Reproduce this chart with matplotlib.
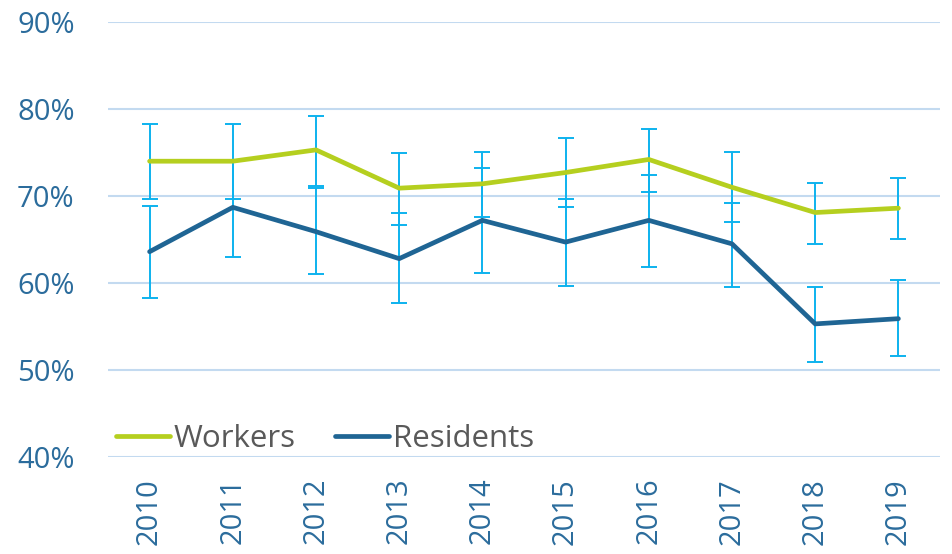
import matplotlib
matplotlib.use("Agg")
import matplotlib.pyplot as plt
import numpy as np

years = ["2010", "2011", "2012", "2013", "2014", "2015", "2016", "2017", "2018", "2019"]
workers = [74.0, 74.0, 75.3, 70.9, 71.4, 72.7, 74.2, 71.0, 68.1, 68.6]
workers_hi = [78.3, 78.3, 79.2, 74.9, 75.1, 76.7, 77.7, 75.0, 71.5, 72.1]
workers_lo = [69.7, 69.7, 71.1, 66.7, 67.6, 68.7, 70.5, 67.0, 64.5, 65.1]
residents = [63.6, 68.7, 65.9, 62.8, 67.2, 64.7, 67.2, 64.5, 55.3, 55.9]
residents_hi = [68.9, 74.0, 70.9, 68.0, 73.2, 69.7, 72.4, 69.2, 59.5, 60.3]
residents_lo = [58.3, 63.0, 61.0, 57.7, 61.1, 59.7, 61.8, 59.5, 50.9, 51.6]
yticks = [40, 50, 60, 70, 80, 90]

plt.rcParams['font.family'] = ['Open Sans', 'DejaVu Sans']

fig = plt.figure(figsize=(9.53, 5.54), dpi=100)
ax = fig.add_axes([108/953, 1-457/554, (940-108)/953, (457-22)/554])

x = np.arange(len(years))
green = "#B5CF1F"
blue = "#1F6594"
err_c = "#0DB2EE"
grid_c = "#C3DAF0"
tick_c = "#2B6C9C"

w = np.array(workers); r = np.array(residents)
ax.errorbar(x, w, yerr=[w - np.array(workers_lo), np.array(workers_hi) - w],
            fmt='none', ecolor=err_c, elinewidth=1.4, capsize=6, capthick=1.4, zorder=3)
ax.errorbar(x, r, yerr=[r - np.array(residents_lo), np.array(residents_hi) - r],
            fmt='none', ecolor=err_c, elinewidth=1.4, capsize=6, capthick=1.4, zorder=3)
ax.plot(x, w, color=green, lw=3.4, solid_capstyle='round', label="Workers", zorder=4)
ax.plot(x, r, color=blue, lw=3.4, solid_capstyle='round', label="Residents", zorder=4)

ax.set_xlim(-0.5, len(years) - 0.5)
ax.set_ylim(40, 90)
ax.set_yticks(yticks)
ax.set_yticklabels([f"{v}%" for v in yticks])
ax.set_xticks(x)
ax.set_xticklabels(years, rotation=90)
ax.tick_params(axis='y', length=0, pad=24, labelsize=21, labelcolor=tick_c)
ax.tick_params(axis='x', length=0, pad=15, labelsize=21, labelcolor=tick_c)
ax.grid(axis='y', color=grid_c, lw=1.5)
ax.set_axisbelow(True)
for s in ax.spines.values():
    s.set_visible(False)

leg = ax.legend(loc='lower left', bbox_to_anchor=(0.0, -0.012), ncol=2, frameon=False,
                fontsize=22.5, handlelength=1.73, handletextpad=0.12, columnspacing=1.25,
                borderaxespad=0.0, borderpad=0.25)
for t in leg.get_texts():
    t.set_color("#595959")

fig.savefig("out.png", dpi=100)
